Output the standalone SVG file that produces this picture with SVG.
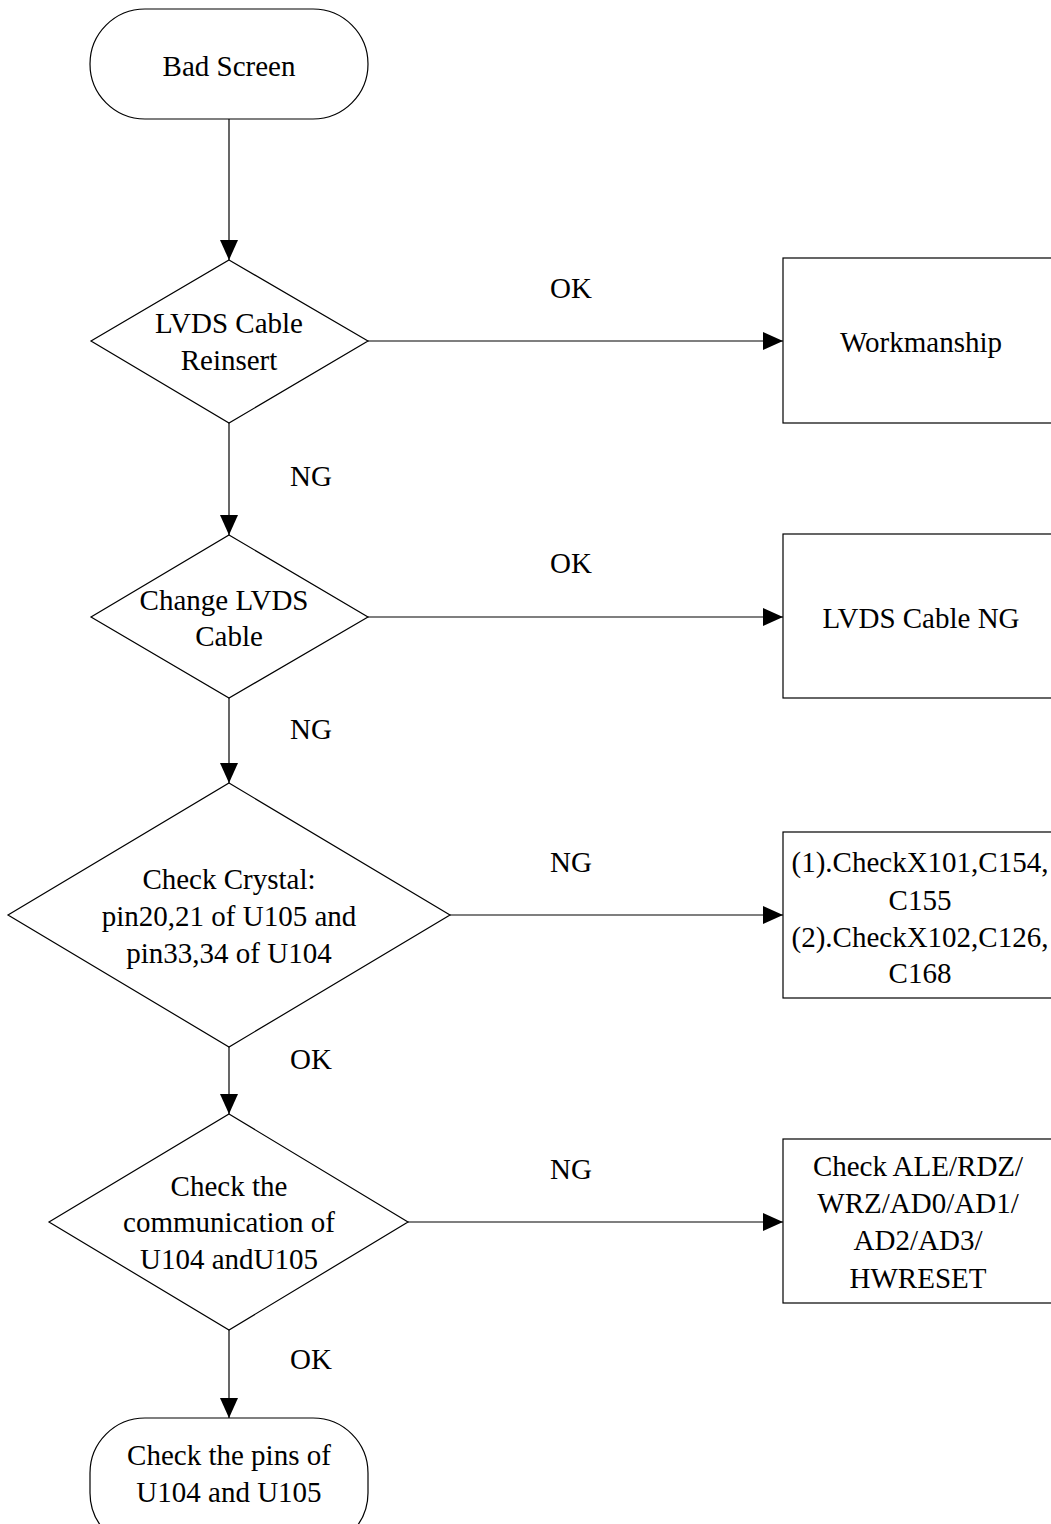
<svg xmlns="http://www.w3.org/2000/svg" width="1051" height="1524" viewBox="0 0 1051 1524">
<style>
.s{fill:#fff;stroke:#000;stroke-width:1.2}
.c{stroke:#000;stroke-width:1.2;fill:none}
text{font-family:"Liberation Serif","Times New Roman",serif;font-size:29px;fill:#000;text-anchor:middle}
</style>
<defs>
<marker id="ah" markerWidth="20" markerHeight="18" refX="20" refY="9" orient="auto" markerUnits="userSpaceOnUse">
<path d="M0,0 L20,9 L0,18 Z" fill="#000"/>
</marker>
</defs>
<g id="connectors">
<line class="c" x1="229" y1="119" x2="229" y2="260" marker-end="url(#ah)"/>
<line class="c" x1="368" y1="341" x2="783" y2="341" marker-end="url(#ah)"/>
<line class="c" x1="229" y1="423" x2="229" y2="535" marker-end="url(#ah)"/>
<line class="c" x1="368" y1="617" x2="783" y2="617" marker-end="url(#ah)"/>
<line class="c" x1="229" y1="698" x2="229" y2="783" marker-end="url(#ah)"/>
<line class="c" x1="450" y1="915" x2="783" y2="915" marker-end="url(#ah)"/>
<line class="c" x1="229" y1="1047" x2="229" y2="1114" marker-end="url(#ah)"/>
<line class="c" x1="408" y1="1222" x2="783" y2="1222" marker-end="url(#ah)"/>
<line class="c" x1="229" y1="1330" x2="229" y2="1418" marker-end="url(#ah)"/>
<text x="571" y="298">OK</text>
<text x="311" y="486">NG</text>
<text x="571" y="573">OK</text>
<text x="311" y="739">NG</text>
<text x="571" y="872">NG</text>
<text x="311" y="1069">OK</text>
<text x="571" y="1179">NG</text>
<text x="311" y="1369">OK</text>
</g>
<g id="start">
<rect class="s" x="90" y="9" width="278" height="110" rx="55" ry="55"/>
<text x="229" y="76">Bad Screen</text>
</g>
<g id="d1">
<polygon class="s" points="229,260 368,341 229,423 91,341"/>
<text x="229" y="333">LVDS Cable</text>
<text x="229" y="370">Reinsert</text>
</g>
<g id="b1">
<rect class="s" x="783" y="258" width="280" height="165"/>
<text x="921" y="352">Workmanship</text>
</g>
<g id="d2">
<polygon class="s" points="229,535 368,617 229,698 91,617"/>
<text x="224" y="610">Change LVDS</text>
<text x="229" y="646">Cable</text>
</g>
<g id="b2">
<rect class="s" x="783" y="534" width="280" height="164"/>
<text x="921" y="628">LVDS Cable NG</text>
</g>
<g id="d3">
<polygon class="s" points="229,783 450,915 229,1047 8,915"/>
<text x="229" y="889">Check Crystal:</text>
<text x="229" y="926">pin20,21 of U105 and</text>
<text x="229" y="963">pin33,34 of U104</text>
</g>
<g id="b3">
<rect class="s" x="783" y="832" width="280" height="166"/>
<text x="920" y="872">(1).CheckX101,C154,</text>
<text x="920" y="910">C155</text>
<text x="920" y="947">(2).CheckX102,C126,</text>
<text x="920" y="983">C168</text>
</g>
<g id="d4">
<polygon class="s" points="229,1114 408,1222 229,1330 49,1222"/>
<text x="229" y="1196">Check the</text>
<text x="229" y="1232">communication of</text>
<text x="229" y="1269">U104 andU105</text>
</g>
<g id="b4">
<rect class="s" x="783" y="1139" width="280" height="164"/>
<text x="918" y="1176">Check ALE/RDZ/</text>
<text x="918" y="1213">WRZ/AD0/AD1/</text>
<text x="918" y="1250">AD2/AD3/</text>
<text x="918" y="1288">HWRESET</text>
</g>
<g id="end">
<rect class="s" x="90" y="1418" width="278" height="130" rx="55" ry="55"/>
<text x="229" y="1465">Check the pins of</text>
<text x="229" y="1502">U104 and U105</text>
</g>
</svg>
